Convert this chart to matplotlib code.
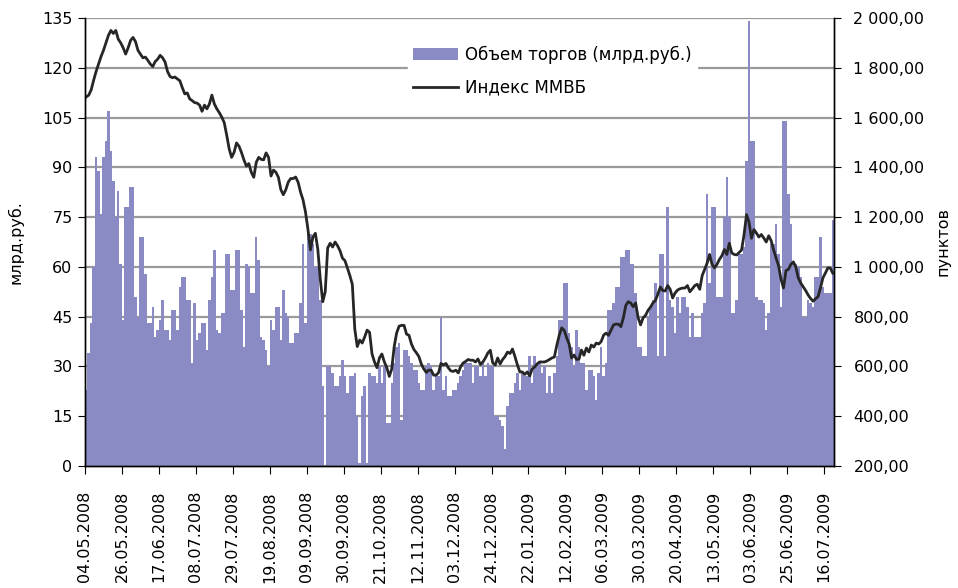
import matplotlib
matplotlib.use("Agg")
import numpy as np
import matplotlib.pyplot as plt
from matplotlib.ticker import FuncFormatter

plt.rcParams['font.family'] = ['DejaVu Sans']

# daily trading volume, bln rub (one value per trading day, 04.05.2008 - 21.07.2009)
volume = [
    23, 34, 43, 60, 93, 89, 76, 93, 98, 107, 95, 86, 75, 83, 61,
    44, 78, 78, 84, 84, 51, 45, 69, 69, 58, 43, 43, 48, 39, 41,
    44, 50, 41, 41, 38, 47, 47, 41, 54, 57, 57, 50, 50, 31, 49,
    38, 40, 43, 43, 35, 50, 57, 65, 41, 40, 46, 46, 64, 64, 53,
    53, 65, 65, 47, 36, 61, 60, 52, 52, 69, 62, 39, 38, 35, 30,
    44, 41, 48, 48, 38, 53, 46, 45, 37, 37, 40, 40, 49, 67, 43,
    72, 70, 67, 60, 60, 50, 24, 0, 30, 30, 28, 24, 24, 27, 32,
    27, 22, 27, 27, 28, 15, 1, 21, 24, 1, 28, 27, 27, 25, 30,
    25, 30, 13, 13, 25, 31, 36, 37, 14, 35, 35, 33, 31, 29, 29,
    25, 23, 23, 30, 31, 30, 23, 27, 27, 45, 23, 27, 21, 21, 23,
    23, 25, 27, 29, 31, 31, 31, 25, 30, 30, 27, 31, 27, 31, 30,
    30, 15, 15, 14, 12, 5, 18, 22, 22, 25, 28, 23, 28, 27, 27,
    33, 25, 33, 31, 31, 28, 30, 22, 27, 22, 28, 33, 44, 44, 55,
    55, 40, 36, 30, 41, 36, 31, 31, 23, 29, 29, 27, 20, 28, 36,
    27, 31, 47, 47, 49, 54, 54, 63, 63, 65, 65, 61, 61, 52, 36,
    36, 33, 33, 45, 48, 50, 55, 33, 64, 64, 33, 78, 50, 48, 40,
    51, 46, 51, 51, 48, 39, 46, 39, 39, 39, 46, 49, 82, 55, 78,
    78, 51, 51, 51, 75, 87, 75, 46, 46, 50, 64, 64, 66, 92, 134,
    98, 98, 51, 50, 50, 49, 41, 46, 67, 67, 73, 64, 48, 104, 104,
    82, 73, 61, 61, 60, 57, 45, 45, 50, 49, 48, 57, 57, 69, 54,
    52, 52, 52, 74,
]

# MICEX index, points
micex = [
    1683, 1690, 1711, 1750, 1785, 1815, 1845, 1870, 1900, 1930, 1950, 1938, 1950, 1915, 1900,
    1880, 1855, 1880, 1910, 1922, 1905, 1870, 1855, 1840, 1843, 1830, 1815, 1805, 1825, 1835,
    1850, 1840, 1823, 1785, 1765, 1760, 1763, 1755, 1748, 1720, 1695, 1699, 1675, 1668, 1660,
    1658, 1650, 1625, 1650, 1635, 1655, 1690, 1655, 1635, 1620, 1602, 1580, 1530, 1475, 1440,
    1460, 1498, 1485, 1460, 1430, 1405, 1415, 1380, 1360, 1420, 1440, 1432, 1430, 1458, 1440,
    1365, 1389, 1380, 1360, 1310, 1290, 1310, 1341, 1355, 1355, 1361, 1340, 1300, 1269, 1220,
    1150, 1068, 1120, 1135, 1070, 950, 860, 900, 1076, 1095, 1080, 1100, 1085, 1065, 1035,
    1025, 996, 965, 930, 750, 680, 706, 694, 718, 746, 737, 650, 618, 595, 634,
    650, 618, 595, 560, 590, 680, 735, 762, 765, 765, 730, 725, 690, 668, 655,
    640, 610, 590, 576, 585, 585, 565, 565, 575, 612, 606, 612, 594, 582, 580,
    585, 574, 600, 614, 620, 628, 625, 625, 618, 630, 608, 618, 634, 654, 665,
    614, 606, 634, 610, 628, 640, 658, 652, 670, 640, 606, 578, 578, 568, 578,
    562, 590, 598, 610, 618, 618, 618, 622, 628, 634, 638, 685, 726, 755, 745,
    715, 690, 634, 646, 628, 630, 666, 645, 674, 658, 686, 678, 694, 690, 700,
    726, 734, 725, 746, 767, 770, 770, 760, 795, 845, 860, 855, 840, 855, 795,
    767, 795, 805, 825, 838, 855, 865, 890, 919, 905, 903, 925, 910, 875, 895,
    907, 912, 915, 915, 925, 900, 912, 925, 930, 910, 965, 990, 1015, 1050, 1010,
    996, 1010, 1030, 1045, 1070, 1050, 1095, 1056, 1050, 1048, 1058, 1068, 1130, 1210, 1180,
    1115, 1150, 1136, 1120, 1130, 1116, 1100, 1125, 1105, 1068, 1035, 1005, 950, 915, 985,
    990, 1010, 1020, 1000, 956, 935, 920, 905, 887, 873, 862, 872, 880, 915, 956,
    975, 996, 995, 975,
]

# every 15th trading day is labelled
date_labels = ['04.05.2008', '26.05.2008', '17.06.2008', '08.07.2008', '29.07.2008',
               '19.08.2008', '09.09.2008', '30.09.2008', '21.10.2008', '12.11.2008',
               '03.12.2008', '24.12.2008', '22.01.2009', '12.02.2009', '06.03.2009',
               '30.03.2009', '20.04.2009', '13.05.2009', '03.06.2009', '25.06.2009',
               '16.07.2009']
label_step = 15

bar_color = '#8A8AC4'
line_color = '#262626'
fs = 11.5

fig = plt.figure(figsize=(9.58, 5.88), dpi=100)
ax = fig.add_axes([85/958, 1 - 466/588, (834-85)/958, (466-18)/588])
ax2 = ax.twinx()

x = np.arange(len(volume))
bars = ax.bar(x, volume, width=1.0, color=bar_color, edgecolor='none', linewidth=0,
              label='Объем торгов (млрд.руб.)')
ln, = ax2.plot(x, micex, color=line_color, lw=2.0, label='Индекс ММВБ')

ax.set_xlim(-0.5, len(volume) - 0.5)
ax.set_ylim(0, 135)
ax.set_yticks(np.arange(0, 136, 15))
ax2.set_ylim(200, 2000)
ax2.set_yticks(np.arange(200, 2001, 200))
ax2.yaxis.set_major_formatter(FuncFormatter(
    lambda v, p: f"{v:,.2f}".replace(',', ' ').replace('.', ',')))

ticks = np.arange(len(date_labels)) * label_step - 0.5
ax.set_xticks(ticks)
ax.set_xticklabels(date_labels, rotation=90, fontsize=fs)

ax.set_axisbelow(True)
ax.yaxis.grid(True, color='#9a9a9a', lw=1.6)
ax.xaxis.grid(False)

for a in (ax, ax2):
    a.spines['top'].set_visible(False)
    for s in ('left', 'right', 'bottom'):
        a.spines[s].set_color('black')
        a.spines[s].set_linewidth(1.0)

ax.tick_params(axis='y', direction='out', length=5, labelsize=fs, pad=4)
ax.tick_params(axis='x', direction='out', length=6, labelsize=fs, pad=12)
ax2.tick_params(axis='y', direction='out', length=5, labelsize=fs, pad=9)

ax.set_ylabel('млрд.руб.', fontsize=fs)
ax.yaxis.set_label_coords(-0.082, 0.5)
ax2.set_ylabel('пунктов', fontsize=fs)
ax2.yaxis.set_label_coords(1.135, 0.5)

leg = ax2.legend([bars, ln], [bars.get_label(), ln.get_label()],
                 loc='upper left', bbox_to_anchor=(400/958, 1 - 32/588),
                 bbox_transform=fig.transFigure, fontsize=12,
                 frameon=True, fancybox=False, framealpha=1.0,
                 edgecolor='white', facecolor='white',
                 handlelength=2.7, handletextpad=0.4, labelspacing=0.9,
                 borderpad=0.3)

fig.savefig('out.png', dpi=100)
